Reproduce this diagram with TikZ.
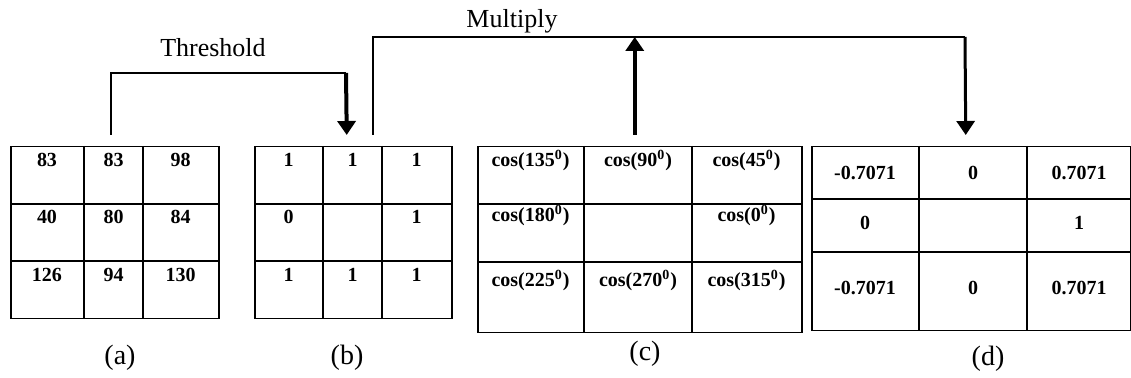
\documentclass[tikz,border=0pt]{standalone}
\usepackage{fontspec}
\setmainfont{Liberation Serif}
\usetikzlibrary{arrows.meta}

\tikzset{
  grid/.style={draw, line width=0.75pt, inner sep=0pt, anchor=north west},
  num/.style={font=\fontsize{10}{12}\selectfont\bfseries, anchor=base, inner sep=0pt},
  caption/.style={font=\fontsize{14}{16}\selectfont, anchor=base, inner sep=0pt},
  opname/.style={font=\fontsize{13}{15}\selectfont, anchor=base, inner sep=0pt},
  link/.style={line width=0.75pt},
  bigarrow/.style={line width=2pt, -{Triangle[width=9pt,length=7pt]}},
}

\begin{document}
\begin{tikzpicture}[x=0.5pt, y=-0.5pt]

  \useasboundingbox (0,0) rectangle (1131,378);

  % Grid (a): input pixels
  \node[grid, minimum width=104pt, minimum height=86pt] (ga) at (10,146) {};
  \foreach \x in {84,143} \draw[link] (\x,146) -- (\x,318);
  \foreach \y in {204,261} \draw[link] (10,\y) -- (218,\y);
  \node[num] (a11) at (47,167) {83};
  \node[num] (a12) at (113.5,167) {83};
  \node[num] (a13) at (180.5,167) {98};
  \node[num] (a21) at (47,224) {40};
  \node[num] (a22) at (113.5,224) {80};
  \node[num] (a23) at (180.5,224) {84};
  \node[num] (a31) at (47,282) {126};
  \node[num] (a32) at (113.5,282) {94};
  \node[num] (a33) at (180.5,282) {130};
  \node[caption] (capa) at (120,365) {(a)};

  % Grid (b): thresholded
  \node[grid, minimum width=98.5pt, minimum height=86pt] (gb) at (254,146) {};
  \foreach \x in {323,382} \draw[link] (\x,146) -- (\x,318);
  \foreach \y in {204,261} \draw[link] (254,\y) -- (451,\y);
  \node[num] (b11) at (288.5,167) {1};
  \node[num] (b12) at (352.5,167) {1};
  \node[num] (b13) at (416.5,167) {1};
  \node[num] (b21) at (288.5,224) {0};
  \node[num] (b23) at (416.5,224) {1};
  \node[num] (b31) at (288.5,282) {1};
  \node[num] (b32) at (352.5,282) {1};
  \node[num] (b33) at (416.5,282) {1};
  \node[caption] (capb) at (347,365) {(b)};

  % Grid (c): cosine weights
  \node[grid, minimum width=162pt, minimum height=93pt] (gc) at (477,146) {};
  \foreach \x in {584,692} \draw[link] (\x,146) -- (\x,332);
  \foreach \y in {204,262} \draw[link] (477,\y) -- (801,\y);
  \node[num] (c11) at (530.5,167) {cos(135\textsuperscript{0})};
  \node[num] (c12) at (638,167) {cos(90\textsuperscript{0})};
  \node[num] (c13) at (746.5,167) {cos(45\textsuperscript{0})};
  \node[num] (c21) at (530.5,222) {cos(180\textsuperscript{0})};
  \node[num] (c23) at (746.5,222) {cos(0\textsuperscript{0})};
  \node[num] (c31) at (530.5,287) {cos(225\textsuperscript{0})};
  \node[num] (c32) at (638,287) {cos(270\textsuperscript{0})};
  \node[num] (c33) at (746.5,287) {cos(315\textsuperscript{0})};
  \node[caption] (capc) at (645,361) {(c)};

  % Grid (d): result
  \node[grid, minimum width=159.5pt, minimum height=92pt] (gd) at (811,146) {};
  \foreach \x in {919,1027} \draw[link] (\x,146) -- (\x,330);
  \foreach \y in {199,252} \draw[link] (811,\y) -- (1130,\y);
  \node[num] (d11) at (865,180) {-0.7071};
  \node[num] (d12) at (973,180) {0};
  \node[num] (d13) at (1079,180) {0.7071};
  \node[num] (d21) at (865,230) {0};
  \node[num] (d23) at (1079,230) {1};
  \node[num] (d31) at (865,295) {-0.7071};
  \node[num] (d32) at (973,295) {0};
  \node[num] (d33) at (1079,295) {0.7071};
  \node[caption] (capd) at (988,366) {(d)};

  % Threshold
  \coordinate (tturn) at (346,73);
  \draw[link] ([xshift=-2pt,yshift=5.5pt]ga.north) |- (tturn);
  \draw[bigarrow] (tturn) -- ([xshift=-3.25pt,yshift=5.5pt]gb.north);
  \node[opname] (thr) at (213,57) {Threshold};

  % Multiply
  \coordinate (mturn) at (965,37);
  \draw[link] ([xshift=9.75pt,yshift=5.5pt]gb.north) |- (mturn);
  \draw[bigarrow, line width=1.5pt] (mturn) -- ([xshift=-2.75pt,yshift=5.5pt]gd.north);
  \draw[bigarrow] ([xshift=-2.5pt,yshift=5.5pt]gc.north) -- ([xshift=-2.5pt]gc.north |- mturn);
  \node[opname] (mul) at (512,28) {Multiply};

\end{tikzpicture}
\end{document}
